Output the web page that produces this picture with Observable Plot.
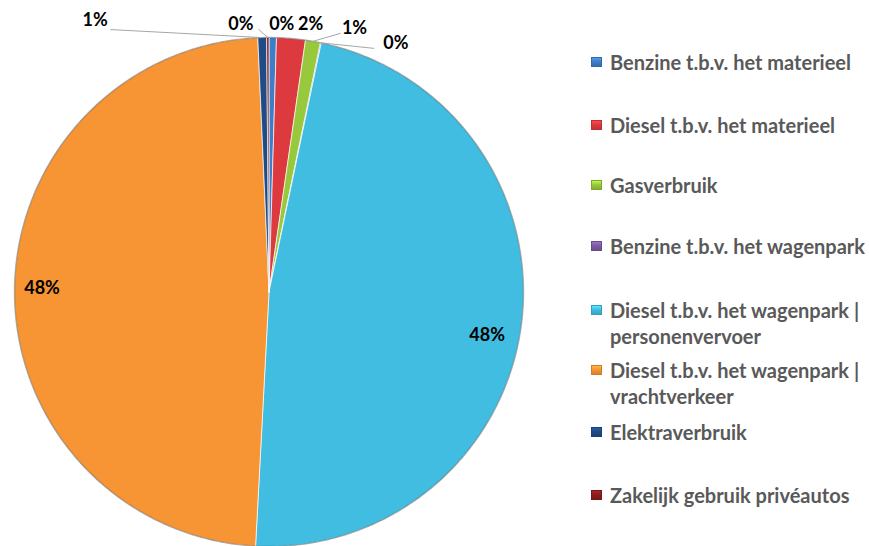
<!DOCTYPE html>
<html><head><meta charset="utf-8">
<script src="https://cdn.jsdelivr.net/npm/d3@7"></script>
<script src="https://cdn.jsdelivr.net/npm/@observablehq/plot@0.6"></script>
<style>
html,body{margin:0;padding:0;background:#fff;overflow:hidden}
#wrap{position:relative;width:869px;height:546px;overflow:hidden}
.item{position:absolute;left:591px;width:278px;font-family:Lato,sans-serif;font-weight:bold;font-size:20px;color:#595959;line-height:26px;white-space:normal}
.sw{position:absolute;left:0;top:8px;width:11px;height:10px;box-sizing:border-box}
.txt{margin-left:19px}
</style></head><body><div id="wrap"></div>
<script>
// ---- data ----
const categories = [
  "Benzine t.b.v. het materieel",
  "Diesel t.b.v. het materieel",
  "Gasverbruik",
  "Benzine t.b.v. het wagenpark",
  "Diesel t.b.v. het wagenpark | personenvervoer",
  "Diesel t.b.v. het wagenpark | vrachtverkeer",
  "Elektraverbruik",
  "Zakelijk gebruik privéautos"
];
const values = [0.47, 1.82, 0.95, 0.05, 47.55, 48.46, 0.55, 0.15];
const colors = ["#3E7DC8", "#DC3A3E", "#98C93C", "#7D5BA6", "#41BDE1", "#F79433", "#1F4B87", "#8A1D1D"];

// ---- layout (not data) ----
const labelInside = [false, false, false, false, true, true, false, false];
const labelOffset = [[9,-13],[19.5,-14],[41.5,-13],[75,0.5],[-4,14],[-3,-3],[-167,-17],[-27,-13]]; // px
const leaderEnd = [null, null, [-14,5], [-22,5], null, null, [15.5,9], [18,5]]; // px from label centre
const legendCenter = [62, 125, 185, 246, 310, 370, 432, 495];

const W = 869, H = 546, mL = 14, mR = 346, mT = 37, mB = 0;
const k = (W - mL - mR) / 2; // px per unit radius

const total = d3.sum(values);
let cum = 0;
const slices = values.map((v, i) => {
  const a0 = cum / total * 2 * Math.PI;
  cum += v;
  const a1 = cum / total * 2 * Math.PI;
  return {i, cat: categories[i], v, a0, a1, mid: (a0 + a1) / 2, pct: Math.round(v / total * 100) + "%"};
});

const polys = [];
for (const s of slices) {
  polys.push({cat: s.cat, x: 0, y: 0});
  const n = Math.max(2, Math.ceil((s.a1 - s.a0) / (Math.PI / 360)));
  for (let j = 0; j <= n; j++) {
    const a = s.a0 + (s.a1 - s.a0) * j / n;
    polys.push({cat: s.cat, x: Math.sin(a), y: Math.cos(a)});
  }
  polys.push({cat: s.cat, x: 0, y: 0});
}
const circle = d3.range(0, 721).map(j => ({x: Math.sin(j / 720 * 2 * Math.PI), y: Math.cos(j / 720 * 2 * Math.PI)}));

const labels = slices.map(s => {
  const r = labelInside[s.i] ? 0.88 : 1;
  const ax = Math.sin(s.mid) * r, ay = Math.cos(s.mid) * r;
  const [dx, dy] = labelOffset[s.i];
  return {i: s.i, text: s.pct, rx: Math.sin(s.mid), ry: Math.cos(s.mid), x: ax + dx / k, y: ay - dy / k};
});
const leaders = [];
for (const l of labels) {
  const e = leaderEnd[l.i];
  if (!e) continue;
  leaders.push({g: l.i, x: l.rx, y: l.ry});
  leaders.push({g: l.i, x: l.x + e[0] / k, y: l.y - e[1] / k});
}

const chart = Plot.plot({
  width: W, height: H,
  marginLeft: mL, marginRight: mR, marginTop: mT, marginBottom: mB,
  x: {domain: [-1, 1], axis: null},
  y: {domain: [-1, 1], axis: null},
  color: {domain: categories, range: colors},
  style: {background: "white", overflow: "visible"},
  marks: [
    Plot.line(polys, {x: "x", y: "y", z: "cat", fill: "cat", stroke: "white", strokeWidth: 0.8, strokeOpacity: 0.85, curve: "linear"}),
    Plot.line(circle, {x: "x", y: "y", stroke: "#000", strokeOpacity: 0.3, strokeWidth: 1.4}),
    Plot.line(leaders, {x: "x", y: "y", z: "g", stroke: "#A6A6A6", strokeWidth: 1}),
    Plot.text(labels, {x: "x", y: "y", text: "text", fill: "#000", fontFamily: "Lato, sans-serif", fontWeight: "bold", fontSize: 18, textAnchor: "middle", lineAnchor: "middle"})
  ]
});

const wrap = document.getElementById("wrap");
wrap.appendChild(chart);
categories.forEach((c, i) => {
  const d = document.createElement("div");
  d.className = "item";
  d.style.top = (legendCenter[i] - 13) + "px";
  const sw = document.createElement("div");
  sw.className = "sw";
  sw.style.background = `linear-gradient(${d3.color(colors[i]).brighter(0.6)}, ${colors[i]} 45%, ${d3.color(colors[i]).darker(0.4)})`;
  sw.style.border = `1px solid ${d3.color(colors[i]).darker(0.5)}`;
  const t = document.createElement("div");
  t.className = "txt";
  t.textContent = c;
  d.appendChild(sw); d.appendChild(t);
  wrap.appendChild(d);
});
</script></body></html>
